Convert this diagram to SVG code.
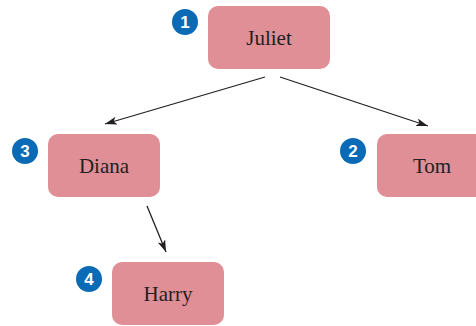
<svg xmlns="http://www.w3.org/2000/svg" width="476" height="326" viewBox="0 0 476 326">
<style>
.node rect{fill:#df8f95;}
.node text.lbl{font-family:"Liberation Serif","Times New Roman",serif;font-size:21px;fill:#231f20;text-anchor:middle;}
.badge circle{fill:#0a6ab5;}
.badge text{font-family:"Liberation Sans",Arial,sans-serif;font-weight:bold;font-size:17px;fill:#fff;text-anchor:middle;}
.edges line{stroke:#231f20;stroke-width:1.3;marker-end:url(#ah);}
</style>
<defs>
<marker id="ah" viewBox="0 0 12 8" refX="12" refY="4" markerWidth="12" markerHeight="8" markerUnits="userSpaceOnUse" orient="auto">
<path d="M0,0 L12,4 L0,8 L3,4 z" fill="#231f20"/>
</marker>
</defs>
<rect width="476" height="326" fill="#fff"/>
<g class="edges">
<line x1="265" y1="77" x2="105" y2="124"/>
<line x1="280" y1="77" x2="428" y2="126"/>
<line x1="147" y1="206" x2="166" y2="252"/>
</g>
<g id="juliet" class="node">
<rect x="208" y="6" width="122" height="63" rx="10"/>
<text class="lbl" x="269" y="45">Juliet</text>
<g class="badge"><circle cx="185" cy="22" r="13"/><text x="185" y="28">1</text></g>
</g>
<g id="diana" class="node">
<rect x="48" y="134" width="112" height="63" rx="10"/>
<text class="lbl" x="104" y="173">Diana</text>
<g class="badge"><circle cx="25" cy="151" r="13"/><text x="25" y="157">3</text></g>
</g>
<g id="tom" class="node">
<rect x="377" y="134" width="112" height="63" rx="10"/>
<text class="lbl" x="432" y="173">Tom</text>
<g class="badge"><circle cx="353" cy="151" r="13"/><text x="353" y="157">2</text></g>
</g>
<g id="harry" class="node">
<rect x="112" y="262" width="112" height="63" rx="10"/>
<text class="lbl" x="168" y="301">Harry</text>
<g class="badge"><circle cx="89" cy="279" r="13"/><text x="89" y="285">4</text></g>
</g>
</svg>
